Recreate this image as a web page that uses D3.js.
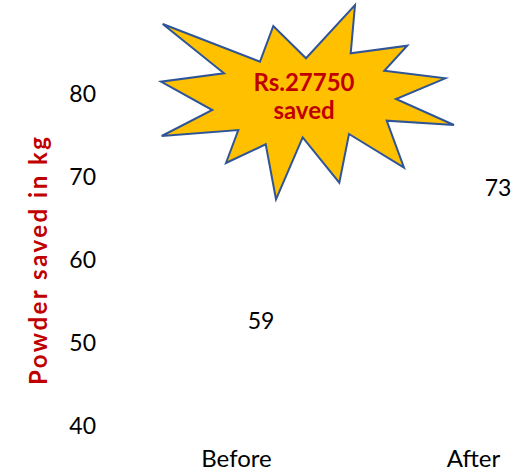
<!DOCTYPE html>
<html><head><meta charset="utf-8">
<script src="https://cdn.jsdelivr.net/npm/d3@7"></script>
<style>
html,body{margin:0;padding:0;background:#fff;}
svg{display:block;}
text{font-family:Lato,"Open Sans",sans-serif;}
</style></head>
<body>
<svg id="chart" width="516" height="475"></svg>
<script>
// ---- data ----
const categories = ["Before", "After"];
const values = [59, 73];
const yTicks = [40, 50, 60, 70, 80];
const yTitle = "Powder saved in kg";
const calloutLines = ["Rs.27750", "saved"];
// starburst callout outline (alternating outer / inner vertices)
const burstPoints = [
  [162.7,24],[260,61.7],[273.3,26],[306,58.3],[355,5],[350.7,53.3],
  [407.3,45.7],[384.3,70.7],[445.3,78.3],[396,99],[454,125],[386.7,120.7],
  [404,167.7],[349,134],[339.3,182.7],[302.7,137.3],[276,199.3],[265.7,144.3],
  [226,163],[238.3,130],[161.7,136],[212.3,110],[161,81.7],[224,73.3]
];

const svg = d3.select("#chart");

const x = d3.scalePoint().domain(categories).range([236, 473]);
const y = d3.scaleLinear().domain([40, 80]).range([425, 93]);
// hidden secondary axis the series labels are placed on
const y2 = d3.scaleLinear().domain([48, 83]).range([425, 93]);

// y axis (labels only)
const yAxis = d3.axisLeft(y).tickValues(yTicks).tickSize(0).tickPadding(0);
const gy = svg.append("g").attr("transform", "translate(96,0)").call(yAxis);
gy.select(".domain").remove();
gy.selectAll("text")
  .attr("font-family", "Lato, sans-serif")
  .attr("font-size", 23)
  .attr("fill", "#000")
  .attr("dy", "0.36em");

// x axis (labels only)
const xAxis = d3.axisBottom(x).tickSize(0).tickPadding(0);
const gx = svg.append("g").attr("transform", "translate(0,450)").call(xAxis);
gx.select(".domain").remove();
gx.selectAll("text")
  .attr("font-family", "Lato, sans-serif")
  .attr("font-size", 24)
  .attr("fill", "#000")
  .attr("dy", "0.71em");

// y title
svg.append("text")
  .attr("transform", "translate(47,261) rotate(-90)")
  .attr("text-anchor", "middle")
  .attr("font-size", 24)
  .attr("font-weight", "bold")
  .attr("fill", "#C00000")
  .attr("textLength", 248)
  .attr("lengthAdjust", "spacing")
  .text(yTitle);

// data labels
svg.append("g").selectAll("text")
  .data(values)
  .join("text")
  .attr("x", (d, i) => x(categories[i]) + 25)
  .attr("y", d => y2(d))
  .attr("dy", "0.36em")
  .attr("text-anchor", "middle")
  .attr("font-size", 23)
  .attr("fill", "#000")
  .text(d => d);

// starburst callout
svg.append("path")
  .attr("d", d3.line()(burstPoints) + "Z")
  .attr("fill", "#FFC000")
  .attr("stroke", "#2F5597")
  .attr("stroke-width", 2)
  .attr("stroke-linejoin", "miter");

const ct = svg.append("text")
  .attr("text-anchor", "middle")
  .attr("font-size", 24)
  .attr("font-weight", "bold")
  .attr("fill", "#C00000");
ct.selectAll("tspan").data(calloutLines).join("tspan")
  .attr("x", 304)
  .attr("y", (d, i) => 91 + i * 28)
  .text(d => d);
</script>
</body></html>
